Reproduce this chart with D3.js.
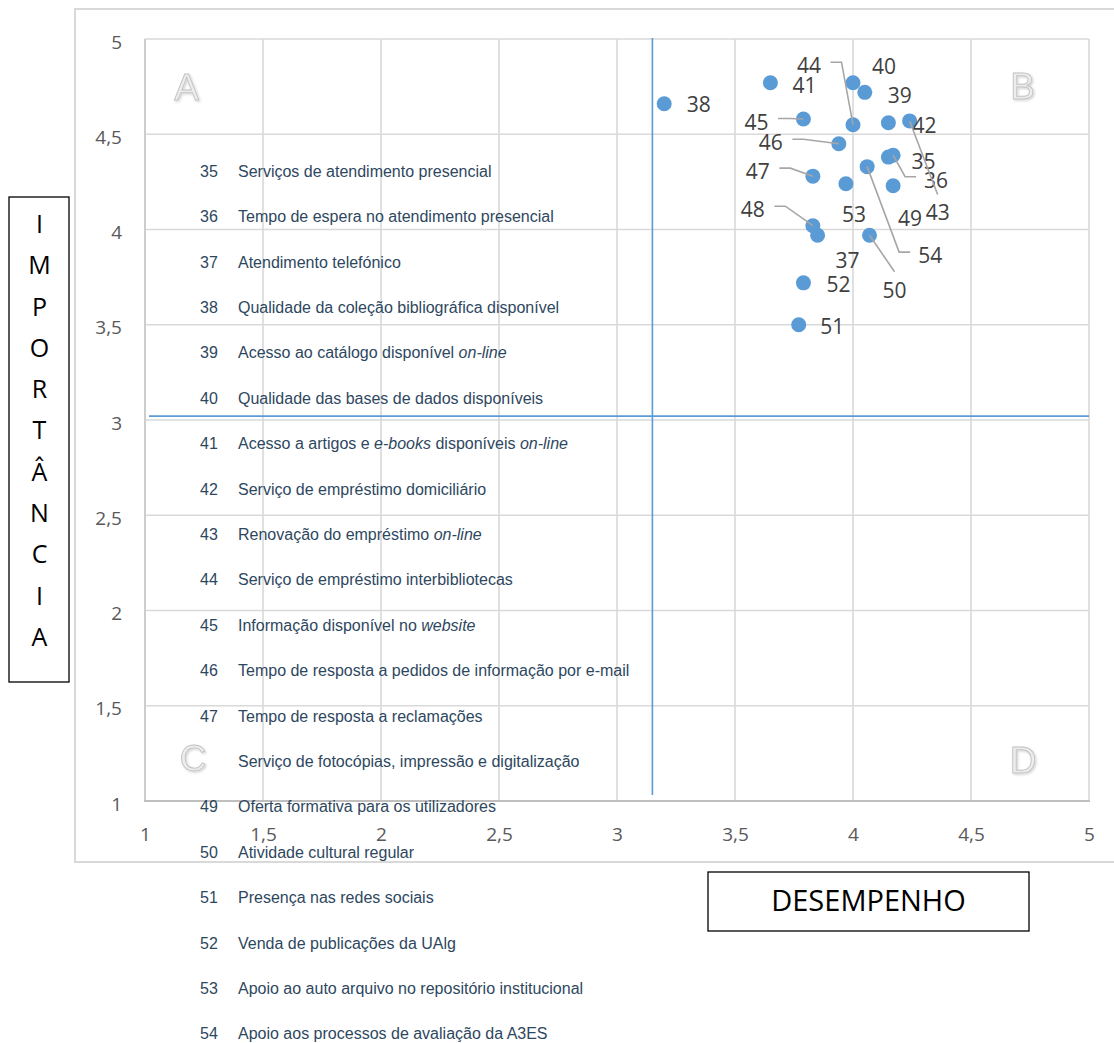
<!DOCTYPE html>
<html lang="pt">
<head>
<meta charset="utf-8">
<title>Importância vs Desempenho</title>
<script src="https://cdn.jsdelivr.net/npm/d3@7"></script>
<style>
  html, body { margin: 0; padding: 0; background: #ffffff; }
  svg { display: block; }
</style>
</head>
<body>
<svg id="chart"></svg>
<script>
// Item numbers and descriptions (segments between asterisks are set in italics)
const itemIds = [35, 36, 37, 38, 39, 40, 41, 42, 43, 44, 45, 46, 47, 48, 49, 50, 51, 52, 53, 54];
const itemNames = [
  "Serviços de atendimento presencial",
  "Tempo de espera no atendimento presencial",
  "Atendimento telefónico",
  "Qualidade da coleção bibliográfica disponível",
  "Acesso ao catálogo disponível *on-line*",
  "Qualidade das bases de dados disponíveis",
  "Acesso a artigos e *e-books* disponíveis *on-line*",
  "Serviço de empréstimo domiciliário",
  "Renovação do empréstimo *on-line*",
  "Serviço de empréstimo interbibliotecas",
  "Informação disponível no *website*",
  "Tempo de resposta a pedidos de informação por e-mail",
  "Tempo de resposta a reclamações",
  "Serviço de fotocópias, impressão e digitalização",
  "Oferta formativa para os utilizadores",
  "Atividade cultural regular",
  "Presença nas redes sociais",
  "Venda de publicações da UAlg",
  "Apoio ao auto arquivo no repositório institucional",
  "Apoio aos processos de avaliação da A3ES"
];

// Mean scores per item
const desempenho = [4.15, 4.17, 3.85, 3.20, 4.05, 4.00, 3.65, 4.15, 4.24, 4.00,
                    3.79, 3.94, 3.83, 3.83, 4.17, 4.07, 3.77, 3.79, 3.97, 4.06];
const importancia = [4.38, 4.39, 3.97, 4.66, 4.72, 4.77, 4.77, 4.56, 4.57, 4.55,
                     4.58, 4.45, 4.28, 4.02, 4.23, 3.97, 3.50, 3.72, 4.24, 4.33];

// Axis ticks and quadrant dividers
const axisTicks = [1, 1.5, 2, 2.5, 3, 3.5, 4, 4.5, 5];
const dividerDesempenho = 3.15;
const dividerImportancia = 3.02;
const quadrantNames = ["A", "B", "C", "D"];

// ---- layout ----
const W = 1114, H = 1043;
const plot = { left: 145, right: 1089, top: 39, bottom: 801 };

// label placement relative to each point (px) and leader-line style
const labelNudge = {
  35: [35, 4], 36: [43, 25], 37: [30, 25], 38: [34.5, 1], 39: [35, 3],
  40: [31, -16], 41: [34, 3], 42: [36, 3], 43: [28, 92], 44: [-44, -59],
  45: [-47, 3], 46: [-68, -1], 47: [-55, -4.5], 48: [-60, -16], 49: [17, 33],
  50: [25, 55], 51: [33.5, 2], 52: [35, 2], 53: [8, 31], 54: [63, 89]
};
const sideLeaders = new Set([36, 44, 45, 46, 47, 48, 54]);
const topLeaders = new Set([43, 50]);

const pt = d3.formatLocale({ decimal: ",", thousands: ".", grouping: [3], currency: ["", " €"] });
const fmt = pt.format("~g");

const svg = d3.select("#chart").attr("width", W).attr("height", H)
  .style("font-family", "'Open Sans', sans-serif");

svg.append("rect").attr("width", W).attr("height", H).attr("fill", "#fff");

const x = d3.scaleLinear().domain([1, 5]).range([plot.left, plot.right]);
const y = d3.scaleLinear().domain([1, 5]).range([plot.bottom, plot.top]);

// chart area frame
svg.append("rect")
  .attr("x", 75).attr("y", 9).attr("width", 1060).attr("height", 853)
  .attr("fill", "none").attr("stroke", "#d9d9d9").attr("stroke-width", 2);

// gridlines
const grid = svg.append("g").attr("stroke", "#d9d9d9").attr("stroke-width", 1.6);
grid.selectAll("line.v").data(axisTicks).join("line").attr("class", "v")
  .attr("x1", d => x(d)).attr("x2", d => x(d))
  .attr("y1", plot.top).attr("y2", plot.bottom);
grid.selectAll("line.h").data(axisTicks.slice(1)).join("line").attr("class", "h")
  .attr("x1", plot.left).attr("x2", plot.right)
  .attr("y1", d => y(d)).attr("y2", d => y(d));

// axes (labels only, lines drawn separately)
const yAxis = svg.append("g").attr("transform", `translate(${plot.left},0)`)
  .call(d3.axisLeft(y).tickValues(axisTicks).tickFormat(fmt).tickSize(0).tickPadding(23));
const xAxis = svg.append("g").attr("transform", `translate(0,${plot.bottom})`)
  .call(d3.axisBottom(x).tickValues(axisTicks).tickFormat(fmt).tickSize(0).tickPadding(0));
[yAxis, xAxis].forEach(g => {
  g.select(".domain").remove();
  g.selectAll("text").attr("fill", "#595959").style("font-size", "19px")
    .style("font-family", "'Open Sans', sans-serif");
});
yAxis.selectAll("text").attr("dy", "0.48em");
xAxis.selectAll("text").attr("y", 33).attr("dy", "0.36em");

// axis lines
svg.append("line").attr("x1", plot.left).attr("x2", plot.left)
  .attr("y1", plot.top).attr("y2", plot.bottom)
  .attr("stroke", "#c8c8c8").attr("stroke-width", 1.6);
svg.append("line").attr("x1", plot.left - 1).attr("x2", plot.right + 1)
  .attr("y1", plot.bottom).attr("y2", plot.bottom)
  .attr("stroke", "#bfbfbf").attr("stroke-width", 2.2);

// quadrant dividers
svg.append("line")
  .attr("x1", x(1) + 4).attr("x2", x(5))
  .attr("y1", y(dividerImportancia)).attr("y2", y(dividerImportancia))
  .attr("stroke", "#5b9bd5").attr("stroke-width", 1.8);
svg.append("line")
  .attr("x1", x(dividerDesempenho)).attr("x2", x(dividerDesempenho))
  .attr("y1", y(5) - 1).attr("y2", y(1) - 6)
  .attr("stroke", "#5b9bd5").attr("stroke-width", 1.6);

// data
const data = itemIds.map((id, i) => ({ id, name: itemNames[i], x: desempenho[i], y: importancia[i] }));

// points
svg.append("g").selectAll("circle").data(data).join("circle")
  .attr("cx", d => x(d.x)).attr("cy", d => y(d.y)).attr("r", 7.5)
  .attr("fill", "#5b9bd5");

// data labels
const LFS = 21;
const labels = svg.append("g");
const leaders = svg.append("g").attr("fill", "none").attr("stroke", "#a6a6a6").attr("stroke-width", 1.6);
data.forEach(d => {
  const px = x(d.x), py = y(d.y);
  const [dx, dy] = labelNudge[d.id];
  const cx = px + dx, cy = py + dy;
  const t = labels.append("text")
    .attr("x", cx).attr("y", cy + 0.357 * LFS)
    .attr("text-anchor", "middle")
    .attr("fill", "#404040").style("font-size", LFS + "px")
    .text(d.id);
  const w = t.node().getComputedTextLength();
  if (sideLeaders.has(d.id)) {
    const ay = cy - 3.5;
    let ax, ex;
    if (cx < px) { ax = cx + w / 2 + 9.5; ex = ax + 11; }
    else { ax = cx - w / 2 - 8; ex = ax - 11; }
    leaders.append("path").attr("d", `M${ax},${ay}L${ex},${ay}L${px},${py}`);
  } else if (topLeaders.has(d.id)) {
    const top = cy - 0.357 * LFS - 11;
    leaders.append("path").attr("d", `M${cx},${top}L${px},${py}`);
  }
});

// quadrant letter positions; the "C" marker sits on top of one list row's number
const quadPos = [[186.5, 87], [1022.5, 86], [193, 758], [1023, 760]];
const listTop = 171, listStep = 45.4;
const coveredRow = Math.round((quadPos[2][1] - listTop) / listStep);

// item list
const listFS = 16;
const list = svg.append("g").attr("fill", "#2e4760")
  .style("font-family", "'Liberation Sans', Arial, sans-serif").style("font-size", listFS + "px");
data.forEach((d, i) => {
  const cy = listTop + i * listStep;
  if (i !== coveredRow) {
    list.append("text").attr("x", 200).attr("y", cy + 0.36 * listFS).text(d.id);
  }
  const t = list.append("text").attr("x", 238).attr("y", cy + 0.36 * listFS);
  d.name.split("*").forEach((seg, k) => {
    if (!seg) return;
    t.append("tspan").style("font-style", k % 2 ? "italic" : "normal").text(seg);
  });
});

// quadrant letters
const defs = svg.append("defs");
const f = defs.append("filter").attr("id", "soft").attr("x", "-20%").attr("y", "-20%")
  .attr("width", "150%").attr("height", "150%");
f.append("feDropShadow").attr("dx", 1.2).attr("dy", 1.2).attr("stdDeviation", 0.8)
  .attr("flood-color", "#000").attr("flood-opacity", 0.18);

const quads = svg.append("g");
quadrantNames.forEach((q, i) => {
  const [cx, cy] = quadPos[i];
  quads.append("text")
    .attr("x", cx).attr("y", cy + 0.358 * 37)
    .attr("text-anchor", "middle")
    .style("font-family", "'Liberation Sans', Arial, sans-serif")
    .style("font-size", "37px")
    .attr("fill", "#ededed").attr("stroke", "#c2c2c2").attr("stroke-width", 0.9)
    .attr("filter", "url(#soft)")
    .text(q);
});

// axis title boxes
svg.append("rect").attr("x", 9).attr("y", 197).attr("width", 60).attr("height", 485)
  .attr("fill", "#fff").attr("stroke", "#000").attr("stroke-width", 1.3);
const yTitle = "IMPORTÂNCIA".split("");
svg.append("g").selectAll("text").data(yTitle).join("text")
  .attr("x", 39.5)
  .attr("y", (d, i) => 224 + i * 41.3 + 0.357 * 25)
  .attr("text-anchor", "middle")
  .attr("fill", "#000").style("font-size", "25px")
  .text(d => d);

svg.append("rect").attr("x", 708).attr("y", 872).attr("width", 321).attr("height", 59)
  .attr("fill", "#fff").attr("stroke", "#000").attr("stroke-width", 1.3);
svg.append("text").attr("x", 868.5).attr("y", 901 + 0.357 * 29)
  .attr("text-anchor", "middle").attr("fill", "#000").style("font-size", "29px")
  .text("DESEMPENHO");
</script>
</body>
</html>
